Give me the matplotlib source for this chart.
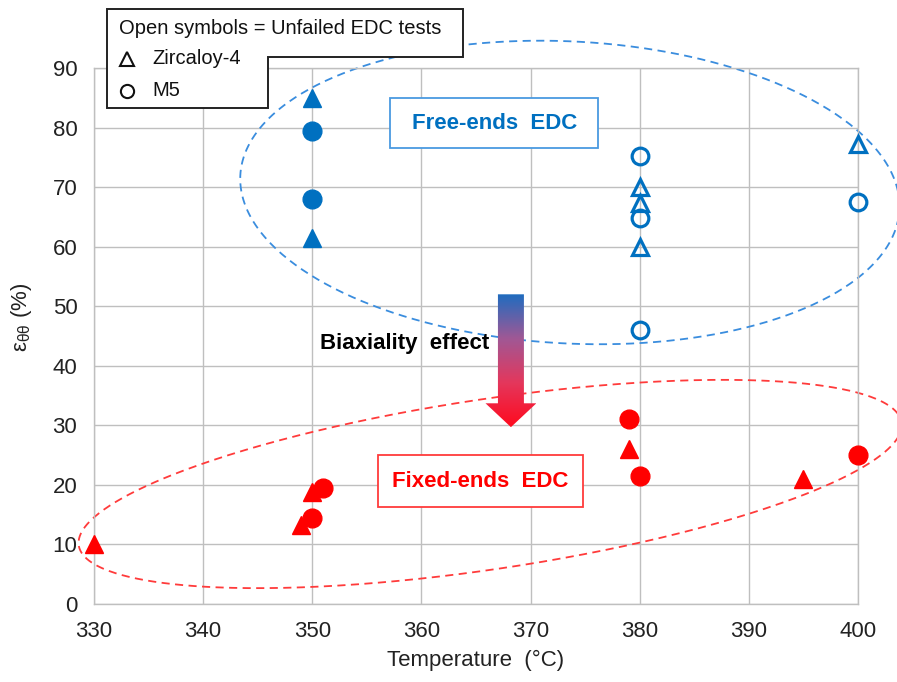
import numpy as np
import matplotlib
matplotlib.use("Agg")
import matplotlib.pyplot as plt
from matplotlib.patches import Polygon, Rectangle
from matplotlib.lines import Line2D
from matplotlib.colors import LinearSegmentedColormap

plt.rcParams['font.family'] = ['Liberation Sans', 'DejaVu Sans']
plt.rcParams['mathtext.fontset'] = 'custom'
plt.rcParams['mathtext.rm'] = 'Liberation Sans'
plt.rcParams['mathtext.it'] = 'Liberation Sans:italic'

BLUE = "#0070C0"
RED = "#FF0000"

# free-ends EDC: filled = failed, open = unfailed
free_zry_fail_T = [350, 350]
free_zry_fail_e = [85.0, 61.5]
free_m5_fail_T = [350, 350]
free_m5_fail_e = [79.5, 68.0]
free_zry_open_T = [380, 380, 380, 400]
free_zry_open_e = [70.0, 67.4, 60.0, 77.3]
free_m5_open_T = [380, 380, 380, 400]
free_m5_open_e = [75.3, 64.8, 46.0, 67.5]

# fixed-ends EDC (all failed)
fixed_zry_T = [330, 349, 350, 379, 395]
fixed_zry_e = [10.0, 13.3, 18.8, 26.0, 21.0]
fixed_m5_T = [350, 351, 379, 380, 400]
fixed_m5_e = [14.5, 19.4, 31.0, 21.5, 25.0]

x_ticks = list(range(330, 401, 10))
y_ticks = list(range(0, 91, 10))

W, H = 897, 682
fig = plt.figure(figsize=(W / 100, H / 100), dpi=100)
ax = fig.add_axes([94 / W, 1 - 604 / H, (858 - 94) / W, (604 - 68) / H])


def px(x, y):
    # figure pixel (from top-left) -> figure fraction
    return x / W, 1 - y / H


def dashed_ellipse(cx, cy, a_px, b_px, ang, color):
    sx = ax.bbox.width / (x_ticks[-1] - x_ticks[0])
    sy = ax.bbox.height / (y_ticks[-1] - y_ticks[0])
    t = np.linspace(0, 2 * np.pi, 500)
    th = np.radians(ang)
    u = a_px * np.cos(t) * np.cos(th) - b_px * np.sin(t) * np.sin(th)
    v = a_px * np.cos(t) * np.sin(th) + b_px * np.sin(t) * np.cos(th)
    ax.plot(cx + u / sx, cy + v / sy, color=color, lw=1.3,
            linestyle=(0, (4.5, 3)), clip_on=False, zorder=2)


# markers
ms = 13.5
kw = dict(ls='none', zorder=4, clip_on=False)
ax.plot(free_zry_fail_T, free_zry_fail_e, '^', color=BLUE, ms=ms, **kw)
ax.plot(free_m5_fail_T, free_m5_fail_e, 'o', color=BLUE, ms=ms, **kw)
ax.plot(free_zry_open_T, free_zry_open_e, '^', mfc='none', mec=BLUE, mew=2.3, ms=12, **kw)
ax.plot(free_m5_open_T, free_m5_open_e, 'o', mfc='none', mec=BLUE, mew=2.3, ms=12, **kw)
ax.plot(fixed_zry_T, fixed_zry_e, '^', color=RED, ms=ms, **kw)
ax.plot(fixed_m5_T, fixed_m5_e, 'o', color=RED, ms=ms, **kw)

ax.set_xticks(x_ticks)
ax.set_yticks(y_ticks)
ax.grid(True, color='#BFBFBF', lw=1.0)
ax.set_axisbelow(True)
for s in ax.spines.values():
    s.set_color('#BFBFBF')
    s.set_linewidth(1.0)
ax.tick_params(length=0, labelsize=16, labelcolor='#222222')
ax.tick_params(axis='x', pad=12)
ax.tick_params(axis='y', pad=12)
ax.set_xlabel('Temperature  (°C)', fontsize=16, color='#222222', labelpad=6)
ax.set_ylabel(r'ε$_{\mathregular{θθ}}$ (%)', fontsize=16, color='#222222')
ax.yaxis.set_label_coords(-0.078, 0.535)

# regions
dashed_ellipse(373.6, 69.1, 330, 151, -3.0, '#3A8DDE')
dashed_ellipse(366.3, 20.15, 416, 85, 8.5, '#FF3B3B')

# label boxes
ax.add_patch(Rectangle((357.15, 76.5), 19.05, 8.4, fill=True, fc='white',
                       ec='#4A9AE0', lw=1.3, zorder=5))
ax.text(366.7, 80.7, 'Free-ends  EDC', color=BLUE, fontsize=16, fontweight='bold',
        ha='center', va='center', zorder=6)
ax.add_patch(Rectangle((356.0, 16.3), 18.8, 8.7, fill=True, fc='white',
                       ec='#FF3B3B', lw=1.3, zorder=5))
ax.text(365.4, 20.6, 'Fixed-ends  EDC', color=RED, fontsize=16, fontweight='bold',
        ha='center', va='center', zorder=6)

ax.text(366.25, 43.8, 'Biaxiality  effect', color='black', fontsize=16, fontweight='bold',
        ha='right', va='center', zorder=6)

# gradient arrow (blue -> red)
acx, a_top, a_neck, a_tip = 368.2, 52.0, 33.7, 29.7
shaft_hw, head_hw = 1.19, 2.33
arrow_pts = [(acx - shaft_hw, a_top), (acx + shaft_hw, a_top), (acx + shaft_hw, a_neck),
             (acx + head_hw, a_neck), (acx, a_tip), (acx - head_hw, a_neck),
             (acx - shaft_hw, a_neck)]
clip = Polygon(arrow_pts, closed=True, fc='none', ec='none')
ax.add_patch(clip)
cmap = LinearSegmentedColormap.from_list('bi', ['#FF0A1E', '#E4375C', '#A05895', '#1F6CBF'])
grad = np.linspace(0, 1, 256).reshape(-1, 1)
im = ax.imshow(grad, extent=[acx - head_hw, acx + head_hw, a_tip, a_top], origin='lower',
               aspect='auto', cmap=cmap, zorder=5)
im.set_clip_path(clip)
ax.set_xlim(x_ticks[0], x_ticks[-1])
ax.set_ylim(y_ticks[0], y_ticks[-1])

# legend box (L-shaped)
leg = [px(107, 9), px(463, 9), px(463, 57), px(268, 57), px(268, 108), px(107, 108)]
fig.add_artist(Polygon(leg, closed=True, fc='white', ec='#222222', lw=1.4,
                       transform=fig.transFigure, zorder=10))
fig.text(*px(119, 28), 'Open symbols = Unfailed EDC tests', fontsize=14.5, va='center',
         ha='left', color='#111111', zorder=11)
fig.add_artist(Line2D([px(127, 59)[0]], [px(127, 59)[1]], marker='^', mfc='none', mec='#111111',
                      mew=1.5, ms=10, transform=fig.transFigure, zorder=11))
fig.text(*px(152, 59), 'Zircaloy-4', fontsize=14.5, va='center', ha='left', color='#111111', zorder=11)
fig.add_artist(Line2D([px(127, 91)[0]], [px(127, 91)[1]], marker='o', mfc='none', mec='#111111',
                      mew=1.5, ms=9.5, transform=fig.transFigure, zorder=11))
fig.text(*px(152, 91), 'M5', fontsize=14.5, va='center', ha='left', color='#111111', zorder=11)

fig.savefig('out.png', dpi=100)
